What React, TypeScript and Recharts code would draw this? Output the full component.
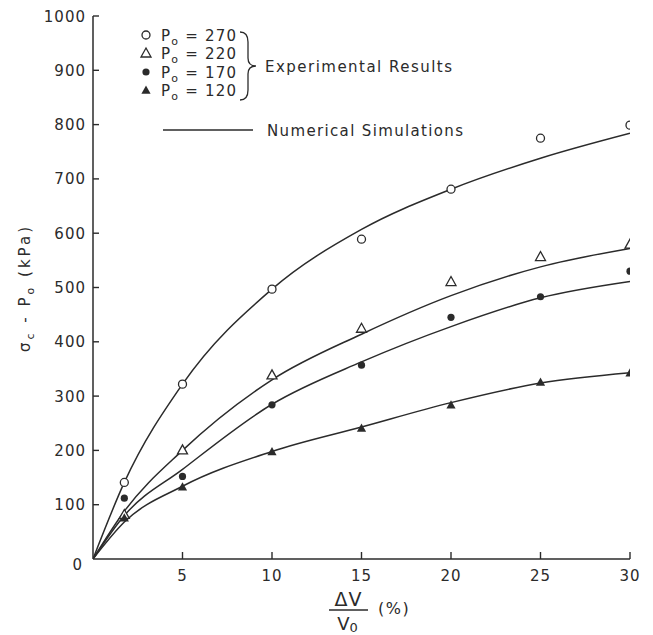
import { ComposedChart, Line, Scatter, XAxis, YAxis, Legend } from 'recharts';

const INK = '#2b2b2b';
const FONT = '"DejaVu Sans", Verdana, sans-serif';

// experimental results, sigma_c - P0 (kPa) against dV/V0 (%)
const expStrain = [1.75, 5, 10, 15, 20, 25, 30];
const exp270 = [141, 322, 497, 589, 681, 775, 799];
const exp220 = [82, 201, 339, 425, 511, 557, 580];
const exp170 = [112, 152, 284, 357, 445, 483, 530];
const exp120 = [76, 133, 198, 241, 284, 326, 343];

// numerical simulations (solid curves)
const simStrain = [0, 1.75, 5, 10, 15, 20, 25, 30];
const sim270 = [0, 141, 322, 497, 607, 681, 738, 784];
const sim220 = [0, 88, 200, 330, 414, 485, 538, 572];
const sim170 = [0, 80, 165, 285, 363, 428, 481, 511];
const sim120 = [0, 68, 134, 198, 243, 288, 324, 343];

const yTicks = [0, 100, 200, 300, 400, 500, 600, 700, 800, 900, 1000];
const xTicks = [5, 10, 15, 20, 25, 30];
const legendP0 = ['270', '220', '170', '120'];

const toPoints = (xs: number[], ys: number[]) => xs.map((x, i) => ({ x, y: ys[i] }));

const tri = (cx: number, cy: number, s: number) =>
  `M${cx},${cy - s} L${cx + s},${cy + s * 0.8} L${cx - s},${cy + s * 0.8} Z`;

const OpenCircle = (p: any) => <circle cx={p.cx} cy={p.cy} r={4} fill="#fff" stroke={INK} strokeWidth={1.3} />;
const FilledCircle = (p: any) => <circle cx={p.cx} cy={p.cy} r={3.6} fill={INK} />;
const OpenTriangle = (p: any) => <path d={tri(p.cx, p.cy, 5)} fill="#fff" stroke={INK} strokeWidth={1.3} />;
const FilledTriangle = (p: any) => <path d={tri(p.cx, p.cy, 4.6)} fill={INK} />;
const markers = [OpenCircle, OpenTriangle, FilledCircle, FilledTriangle];

const X_MARGIN = 17;
const XTick = (props: any) => {
  const { x, y, payload } = props;
  const axisY = y - X_MARGIN;
  return (
    <g>
      <line x1={x} x2={x} y1={axisY} y2={axisY - 7} stroke={INK} strokeWidth={1.4} />
      <text x={x} y={y + 5} textAnchor="middle" fontSize={15} letterSpacing={1} fill={INK} fontFamily={FONT}>
        {payload.value}
      </text>
    </g>
  );
};

const Y_MARGIN = 7;
const YTick = (props: any) => {
  const { x, y, payload } = props;
  if (payload.value === 0) {
    return (
      <text x={x - 4} y={y + 11} textAnchor="end" fontSize={15} fill={INK} fontFamily={FONT}>
        0
      </text>
    );
  }
  const axisX = x + Y_MARGIN;
  return (
    <g>
      <line x1={axisX} x2={axisX + 6} y1={y} y2={y} stroke={INK} strokeWidth={1.4} />
      <text x={x} y={y + 5.5} textAnchor="end" fontSize={15} letterSpacing={1} fill={INK} fontFamily={FONT}>
        {payload.value}
      </text>
    </g>
  );
};

const XTitle = (props: any) => {
  const vb = props.viewBox;
  const fx = vb.x + vb.width / 2 - 13;
  return (
    <g fill={INK} fontFamily={FONT}>
      <text x={fx} y={606} textAnchor="middle" fontSize={19} letterSpacing={1}>ΔV</text>
      <line x1={fx - 19.5} x2={fx + 19.5} y1={610} y2={610} stroke={INK} strokeWidth={1.6} />
      <text x={fx - 1} y={630} textAnchor="middle" fontSize={18}>
        V<tspan fontSize={13} dy={2}>0</tspan>
      </text>
      <text x={fx + 29.5} y={614} fontSize={16} letterSpacing={1.5}>(%)</text>
    </g>
  );
};

const YTitle = () => (
  <text
    transform="translate(24, 288) rotate(-90)"
    x={0}
    y={6}
    textAnchor="middle"
    fontSize={15}
    letterSpacing={3}
    fill={INK}
    fontFamily={FONT}
  >
    σ<tspan fontSize={11} dy={4}>c</tspan>
    <tspan dy={-4}> - P</tspan>
    <tspan fontSize={11} dy={4}>o</tspan>
    <tspan dy={-4}> (kPa)</tspan>
  </text>
);

const LegendBox = () => {
  const rows = [15, 33, 52, 70];
  return (
    <svg width={360} height={125} style={{ overflow: 'visible' }}>
      <g fill={INK} fontFamily={FONT} fontSize={15}>
        {legendP0.map((p, i) => {
          const Marker = markers[i];
          return (
            <g key={p}>
              <Marker cx={16} cy={rows[i]} />
              <text x={31} y={rows[i] + 5.5} letterSpacing={1.2}>
                P<tspan fontSize={11} dy={4}>o</tspan>
                <tspan dy={-4}> = {p}</tspan>
              </text>
            </g>
          );
        })}
        <path
          d="M110,12 Q118,12 118,22 L118,38 Q118,46 126,46 Q118,46 118,54 L118,70 Q118,80 110,80"
          fill="none"
          stroke={INK}
          strokeWidth={1.3}
        />
        <text x={135} y={51.5} textLength={187} lengthAdjust="spacing">Experimental Results</text>
        <line x1={33} x2={123} y1={110} y2={110} stroke={INK} strokeWidth={1.5} />
        <text x={137} y={115.5} textLength={196} lengthAdjust="spacing">Numerical Simulations</text>
      </g>
    </svg>
  );
};

const simSeries = [sim270, sim220, sim170, sim120];
const expSeries = [exp270, exp220, exp170, exp120];

export default function App() {
  return (
    <div style={{ position: 'absolute', left: 0, top: 0, background: '#fff' }}>
      <ComposedChart width={653} height={635} margin={{ top: 16, right: 23, left: 0, bottom: 0 }}>
        <XAxis
          type="number"
          dataKey="x"
          domain={[0, 30]}
          ticks={xTicks}
          interval={0}
          allowDataOverflow
          height={76}
          axisLine={{ stroke: INK, strokeWidth: 1.5 }}
          tickLine={false}
          tickSize={0}
          tickMargin={X_MARGIN}
          tick={XTick}
          label={XTitle}
        />
        <YAxis
          type="number"
          domain={[0, 1000]}
          ticks={yTicks}
          interval={0}
          allowDataOverflow
          width={93}
          axisLine={{ stroke: INK, strokeWidth: 1.5 }}
          tickLine={false}
          tickSize={0}
          tickMargin={Y_MARGIN}
          tick={YTick}
          label={YTitle}
        />
        <Legend
          layout="vertical"
          align="center"
          verticalAlign="middle"
          wrapperStyle={{ left: 130, top: 20, width: 360, height: 125 }}
          content={() => <LegendBox />}
        />
        {simSeries.map((s, i) => (
          <Line
            key={`sim-${legendP0[i]}`}
            data={toPoints(simStrain, s)}
            dataKey="y"
            type="monotone"
            dot={false}
            stroke={INK}
            strokeWidth={1.5}
            isAnimationActive={false}
          />
        ))}
        {expSeries.map((s, i) => (
          <Scatter
            key={`exp-${legendP0[i]}`}
            data={toPoints(expStrain, s)}
            dataKey="y"
            shape={markers[i]}
            isAnimationActive={false}
          />
        ))}
      </ComposedChart>
    </div>
  );
}
